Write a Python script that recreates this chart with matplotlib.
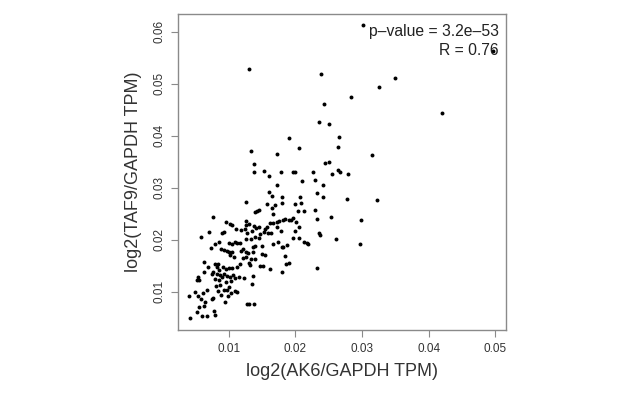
import matplotlib
matplotlib.use("Agg")
import matplotlib.pyplot as plt

plt.rcParams['font.family'] = ['Liberation Sans', 'DejaVu Sans']

ak6 = [0.01305, 0.0238, 0.0350, 0.0326, 0.0284, 0.0243, 0.0420, 0.0236, 0.0250, 0.0266,
       0.0190, 0.0264, 0.0206, 0.0133, 0.0173, 0.03145, 0.0138, 0.0251, 0.0245, 0.0138,
       0.0153, 0.0178, 0.0197, 0.0200, 0.0161, 0.0226, 0.0264, 0.0267, 0.0255, 0.0279,
       0.0210, 0.0230, 0.0172, 0.0242, 0.0233, 0.0161, 0.0180, 0.0242, 0.0207, 0.0165,
       0.0277, 0.0323, 0.01265, 0.0180, 0.0158, 0.0169, 0.0199, 0.0208, 0.0142, 0.0145,
       0.0140, 0.0204, 0.0213, 0.0230, 0.0165, 0.0167, 0.0253, 0.00765, 0.0298, 0.0233,
       0.00955, 0.01025, 0.0105, 0.0126, 0.0126, 0.0131, 0.0162, 0.0166, 0.0173, 0.0176,
       0.0182, 0.0185, 0.0190, 0.0196, 0.0193, 0.0201, 0.00705, 0.00905, 0.00935, 0.0058,
       0.0206, 0.0200, 0.0173, 0.0179, 0.0138, 0.0141, 0.0145, 0.0135, 0.0128, 0.0124,
       0.0118, 0.0111, 0.0155, 0.0159, 0.0164, 0.0158, 0.0153, 0.0147, 0.0140, 0.0145,
       0.0133, 0.0126, 0.0117, 0.0113, 0.0109, 0.0105, 0.01005, 0.0085, 0.0080, 0.00735,
       0.0196, 0.0205, 0.0237, 0.0235, 0.0261, 0.0213, 0.0217, 0.0219, 0.0297, 0.0166,
       0.0174, 0.0188, 0.0180, 0.0182, 0.01505, 0.0139, 0.0136, 0.0122, 0.0119, 0.0126,
       0.0129, 0.0137, 0.0089, 0.0093, 0.0097, 0.01005, 0.0105, 0.01025, 0.01075, 0.0121,
       0.0126, 0.0133, 0.0140, 0.01505, 0.0154, 0.0184, 0.0190, 0.0186, 0.0180, 0.0232,
       0.0147, 0.0152, 0.0162, 0.0130, 0.0132, 0.0117, 0.0112, 0.0105, 0.0100, 0.0096,
       0.0092, 0.00845, 0.0080, 0.0083, 0.00855, 0.00685, 0.00625, 0.0075, 0.0077, 0.0082,
       0.0087, 0.00905, 0.0093, 0.0097, 0.0102, 0.0107, 0.01095, 0.0115, 0.0123, 0.0136,
       0.0135, 0.0054, 0.00555, 0.0052, 0.00625, 0.0080, 0.00855, 0.0096, 0.0104, 0.0081,
       0.0087, 0.0093, 0.0098, 0.01005, 0.01095, 0.0112, 0.01035, 0.00985, 0.0089, 0.00845,
       0.0077, 0.00745, 0.0094, 0.0068, 0.00615, 0.0049, 0.00545, 0.0041, 0.0059, 0.0065,
       0.00635, 0.0055, 0.0052, 0.00605, 0.0068, 0.0079, 0.0078, 0.00425, 0.01275, 0.0131,
       0.01385, 0.0301, 0.0496]

taf9 = [0.0528, 0.0519, 0.0511, 0.0494, 0.0475, 0.0460, 0.0443, 0.0426, 0.0422, 0.0398,
        0.0396, 0.0379, 0.0376, 0.0371, 0.0365, 0.0362, 0.0345, 0.0350, 0.0347, 0.0331,
        0.0333, 0.0330, 0.0330, 0.0331, 0.0322, 0.0330, 0.0334, 0.0331, 0.0327, 0.0326,
        0.0313, 0.0314, 0.0305, 0.0306, 0.0289, 0.0292, 0.0283, 0.0283, 0.0282, 0.0284,
        0.0278, 0.0277, 0.0273, 0.0271, 0.0269, 0.0267, 0.0269, 0.0270, 0.0256, 0.0257,
        0.0253, 0.0256, 0.0256, 0.0257, 0.0260, 0.0249, 0.0244, 0.0244, 0.0238, 0.0239,
        0.0234, 0.0231, 0.0229, 0.0235, 0.0228, 0.0230, 0.0233, 0.0233, 0.0234, 0.0236,
        0.0237, 0.0239, 0.0238, 0.0241, 0.0237, 0.0234, 0.0215, 0.0213, 0.0214, 0.0205,
        0.0224, 0.0217, 0.0225, 0.0216, 0.0226, 0.0223, 0.0224, 0.0217, 0.0212, 0.0220,
        0.0219, 0.0220, 0.0221, 0.0212, 0.0213, 0.0225, 0.0214, 0.0210, 0.0206, 0.0204,
        0.0201, 0.0202, 0.0194, 0.0193, 0.0196, 0.0191, 0.0194, 0.0196, 0.0191, 0.0184,
        0.0203, 0.0204, 0.0209, 0.0212, 0.0202, 0.0196, 0.0194, 0.0192, 0.0191, 0.0192,
        0.0196, 0.0189, 0.0185, 0.0185, 0.0187, 0.0188, 0.0185, 0.0183, 0.0179, 0.0177,
        0.0174, 0.0177, 0.0183, 0.0181, 0.0179, 0.0176, 0.0176, 0.0171, 0.0167, 0.0165,
        0.0167, 0.0162, 0.0163, 0.0172, 0.0171, 0.0169, 0.0156, 0.0154, 0.0138, 0.0146,
        0.0150, 0.0150, 0.0143, 0.0156, 0.0152, 0.0154, 0.0148, 0.0146, 0.0146, 0.0144,
        0.0148, 0.0153, 0.0154, 0.0148, 0.0142, 0.0148, 0.0137, 0.0134, 0.0138, 0.0134,
        0.0132, 0.0129, 0.0134, 0.0130, 0.0129, 0.0132, 0.0127, 0.0129, 0.0126, 0.0130,
        0.0115, 0.0129, 0.0122, 0.0122, 0.0158, 0.0124, 0.0122, 0.0119, 0.0121, 0.0110,
        0.0112, 0.0103, 0.0104, 0.0109, 0.0101, 0.0099, 0.0097, 0.0092, 0.0094, 0.0102,
        0.0088, 0.0085, 0.0080, 0.0103, 0.0097, 0.0099, 0.0091, 0.0092, 0.0085, 0.0080,
        0.0072, 0.0070, 0.0061, 0.0054, 0.0054, 0.0055, 0.0063, 0.0049, 0.0076, 0.0076,
        0.0076, 0.0612, 0.0563]

x_ticks = [0.01, 0.02, 0.03, 0.04, 0.05]
y_ticks = [0.01, 0.02, 0.03, 0.04, 0.05, 0.06]
x_label = "log2(AK6/GAPDH TPM)"
y_label = "log2(TAF9/GAPDH TPM)"
stat_lines = ["p\u2013value = 3.2e\u201353", "R = 0.76"]

fig = plt.figure(figsize=(6.4, 3.94), dpi=100)
ax = fig.add_axes([0.2777, 0.1624, 0.5129, 0.8021])
ax.scatter(ak6, taf9, s=8, c='black', linewidths=0)
ax.set_xlim(0.00235, 0.0516)
ax.set_ylim(0.00263, 0.0634)
ax.set_xticks(x_ticks)
ax.set_yticks(y_ticks)
ax.set_xticklabels([f"{v:.2f}" for v in x_ticks])
ax.set_yticklabels([f"{v:.2f}" for v in y_ticks], rotation=90, va='center')
for s in ax.spines.values():
    s.set_color('#8a8a8a')
    s.set_linewidth(1.0)
ax.tick_params(direction='out', length=5, width=0.8, color='#8a8a8a',
               labelsize=8.5, labelcolor='#333333', pad=4)
ax.set_xlabel(x_label, fontsize=13, color='#333333', labelpad=6)
ax.set_ylabel(y_label, fontsize=13, color='#333333', labelpad=8)
ax.text(0.0505, 0.0601, stat_lines[0], ha='right', va='center', fontsize=11.3, color='#222222')
ax.text(0.0505, 0.0563, stat_lines[1], ha='right', va='center', fontsize=11.3, color='#222222')
fig.savefig("out.png", dpi=100)
